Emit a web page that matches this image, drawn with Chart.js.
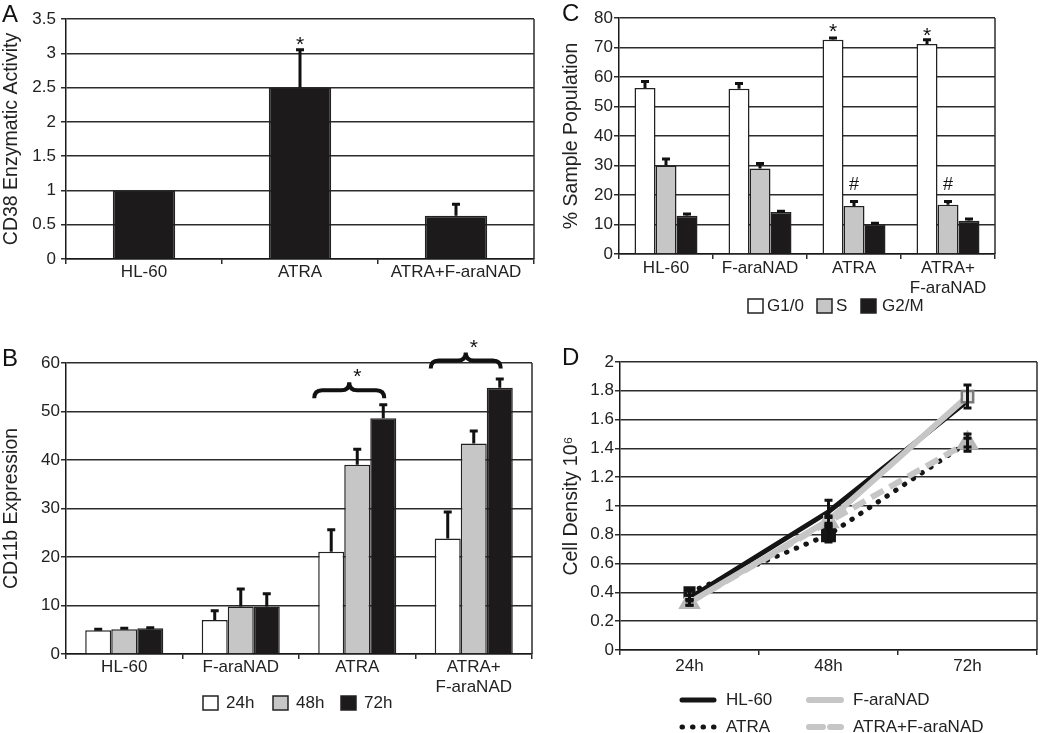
<!DOCTYPE html>
<html>
<head>
<meta charset="utf-8">
<script src="https://cdn.jsdelivr.net/npm/chart.js@4.4.1/dist/chart.umd.min.js"></script>
<style>
  body { margin: 0; background: #fff; }
  .panel { position: absolute; }
</style>
</head>
<body>
<div class="panel" style="left:0;top:0;width:545px;height:300px"><canvas id="chartA"></canvas></div>
<div class="panel" style="left:0;top:320px;width:545px;height:413px"><canvas id="chartB"></canvas></div>
<div class="panel" style="left:560px;top:0;width:490px;height:320px"><canvas id="chartC"></canvas></div>
<div class="panel" style="left:560px;top:320px;width:490px;height:413px"><canvas id="chartD"></canvas></div>
<script>
// panel A : CD38 activity
const cd38Labels = ["HL-60", "ATRA", "ATRA+F-araNAD"];
const cd38Values = [1.0, 2.5, 0.63];
const cd38Err = [0, 0.55, 0.17];
const cd38Ticks = [0, 0.5, 1, 1.5, 2, 2.5, 3, 3.5];

// panel B : CD11b expression
const groupLabels = ["HL-60", "F-araNAD", "ATRA", ["ATRA+", "F-araNAD"]];
const cd11b24h = [4.9, 7.0, 21.1, 23.8];
const cd11b48h = [5.1, 9.8, 39.0, 43.4];
const cd11b72h = [5.3, 9.8, 48.6, 54.9];
const cd11bErr24h = [0.2, 1.9, 4.5, 5.5];
const cd11bErr48h = [0.2, 3.6, 3.2, 2.6];
const cd11bErr72h = [0.1, 2.6, 2.8, 1.8];
const cd11bTicks = [0, 10, 20, 30, 40, 50, 60];

// panel C : cell cycle
const cycleG1 = [56.3, 56.0, 72.6, 71.2];
const cycleS = [30.0, 29.0, 16.3, 16.7];
const cycleG2M = [13.0, 14.2, 10.1, 11.3];
const cycleErrG1 = [2.2, 1.8, 0.6, 1.4];
const cycleErrS = [2.2, 1.7, 1.5, 1.1];
const cycleErrG2M = [0.6, 0.3, 0.3, 0.6];
const cycleTicks = [0, 10, 20, 30, 40, 50, 60, 70, 80];

// panel D : cell density
const timeLabels = ["24h", "48h", "72h"];
const densHL60 = [0.36, 0.96, 1.73];
const densFara = [0.33, 0.90, 1.76];
const densATRA = [0.40, 0.80, 1.44];
const densATRAFara = [0.33, 0.89, 1.44];
const densErrHL60 = [0.02, 0.08, 0];
const densErrFara = [0.02, 0.03, 0.08];
const densErrATRA = [0.02, 0.05, 0.03];
const densErrATRAFara = [0.02, 0.03, 0.06];
const densTicks = [0, 0.2, 0.4, 0.6, 0.8, 1, 1.2, 1.4, 1.6, 1.8, 2];

const FONT = "'Liberation Sans', Arial, Helvetica, sans-serif";
const GRID = "#2c2c2c";
const AXIS = "#1a1a1a";
const BLACK = "#1c1a1a";
const GRAY = "#c6c6c6";
const WHITE = "#ffffff";

Chart.defaults.font.family = FONT;
Chart.defaults.font.size = 17;
Chart.defaults.color = "#222";
Chart.defaults.animation = false;

function yAxis(ticks, title, width, pad) {
  return {
    min: ticks[0],
    max: ticks[ticks.length - 1],
    afterBuildTicks: s => { s.ticks = ticks.map(v => ({ value: v })); },
    afterFit: s => { s.width = width; },
    ticks: { padding: pad, callback: v => String(v) },
    grid: { color: GRID, lineWidth: 1.5, tickLength: 5 },
    border: { color: AXIS, width: 1.5 },
    title: { display: true, text: title, font: { size: 19.5 }, padding: { top: 0, bottom: 0 } }
  };
}

function xAxis(height, pad, offset) {
  return {
    offset: offset,
    afterFit: s => { s.height = height; },
    ticks: { padding: pad, maxRotation: 0, autoSkip: false },
    grid: { offset: true, drawOnChartArea: false, color: GRID, lineWidth: 1.5, tickLength: 5 },
    border: { color: AXIS, width: 1.5 }
  };
}

// error bars (upper only for bars, both ways for lines)
const errorBars = {
  id: "errorBars",
  afterDatasetsDraw(chart) {
    const ctx = chart.ctx;
    const y = chart.scales.y;
    chart.data.datasets.forEach((ds, i) => {
      if (!ds.errors) return;
      const meta = chart.getDatasetMeta(i);
      ctx.save();
      ctx.strokeStyle = "#111";
      ctx.lineWidth = 3;
      meta.data.forEach((el, j) => {
        const err = ds.errors[j];
        if (!err) return;
        const v = ds.data[j];
        const top = y.getPixelForValue(v + err);
        const bot = ds.errBoth ? y.getPixelForValue(v - err) : el.y;
        ctx.beginPath();
        ctx.moveTo(el.x, bot);
        ctx.lineTo(el.x, top);
        ctx.moveTo(el.x - 4, top);
        ctx.lineTo(el.x + 4, top);
        if (ds.errBoth) {
          ctx.moveTo(el.x - 4, bot);
          ctx.lineTo(el.x + 4, bot);
        }
        ctx.stroke();
      });
      ctx.restore();
    });
  }
};

// frame, panel letter, significance marks, braces, legend
const panelDecor = {
  id: "panelDecor",
  afterDraw(chart, args, opts) {
    const ctx = chart.ctx;
    const area = chart.chartArea;
    const y = chart.scales.y;
    ctx.save();
    ctx.strokeStyle = GRID;
    ctx.lineWidth = 1.5;
    ctx.beginPath();
    ctx.moveTo(area.right, area.top);
    ctx.lineTo(area.right, area.bottom);
    ctx.stroke();

    ctx.fillStyle = "#111";
    ctx.textAlign = "left";
    ctx.textBaseline = "alphabetic";
    ctx.font = `24px ${FONT}`;
    ctx.fillText(opts.letter[0], opts.letter[1], opts.letter[2]);

    ctx.textAlign = "center";
    ctx.textBaseline = "middle";
    (opts.marks || []).forEach(m => {
      const el = chart.getDatasetMeta(m.ds).data[m.index];
      const size = m.text === "*" ? 21 : 18;
      ctx.font = `${size}px ${FONT}`;
      const dy = m.text === "*" ? size * 0.25 : 0;
      ctx.fillText(m.text, el.x, y.getPixelForValue(m.value) + dy);
    });

    ctx.strokeStyle = "#111";
    ctx.lineWidth = 4;
    (opts.braces || []).forEach(b => {
      const first = chart.getDatasetMeta(0).data[b.index];
      const last = chart.getDatasetMeta(2).data[b.index];
      const x1 = first.x - first.width / 2 - 4;
      const x2 = last.x + 1;
      const xm = (x1 + x2) / 2;
      const yl = y.getPixelForValue(b.value);
      const h = 8;
      ctx.beginPath();
      ctx.moveTo(x1, yl + h);
      ctx.quadraticCurveTo(x1, yl, x1 + h, yl);
      ctx.lineTo(xm - h, yl);
      ctx.quadraticCurveTo(xm, yl, xm, yl - h);
      ctx.quadraticCurveTo(xm, yl, xm + h, yl);
      ctx.lineTo(x2 - h, yl);
      ctx.quadraticCurveTo(x2, yl, x2, yl + h);
      ctx.stroke();
    });

    ctx.font = `17px ${FONT}`;
    ctx.textAlign = "left";
    (opts.legend || []).forEach(it => {
      const ds = chart.data.datasets[it.ds];
      if (chart.config.type === "bar") {
        ctx.fillStyle = ds.backgroundColor;
        ctx.fillRect(it.x, it.y - 7, 15, 14);
        ctx.strokeStyle = "#222";
        ctx.lineWidth = 1.5;
        ctx.strokeRect(it.x, it.y - 7, 15, 14);
      } else {
        ctx.strokeStyle = ds.borderColor;
        ctx.lineWidth = ds.borderWidth;
        ctx.lineCap = "round";
        ctx.setLineDash(ds.borderDash || []);
        ctx.beginPath();
        ctx.moveTo(it.x + 3, it.y);
        ctx.lineTo(it.x + 35, it.y);
        ctx.stroke();
        ctx.setLineDash([]);
        ctx.lineCap = "butt";
      }
      ctx.fillStyle = "#222";
      ctx.fillText(ds.label, it.textX, it.y);
    });
    ctx.restore();
  }
};

function barSet(label, data, errors, color) {
  return {
    label, data, errors,
    backgroundColor: color,
    borderColor: "#222",
    borderWidth: 1.5,
    categoryPercentage: 0.67,
    barPercentage: 1
  };
}

// A
new Chart(document.getElementById("chartA"), {
  type: "bar",
  data: {
    labels: cd38Labels,
    datasets: [{
      label: "CD38", data: cd38Values, errors: cd38Err,
      backgroundColor: BLACK, borderColor: "#222", borderWidth: 1.5,
      categoryPercentage: 0.4, barPercentage: 1
    }]
  },
  options: {
    responsive: true,
    maintainAspectRatio: false,
    layout: { padding: { left: 0, top: 19, right: 11, bottom: 11 } },
    scales: {
      x: xAxis(30, -2, true),
      y: yAxis(cd38Ticks, "CD38 Enzymatic Activity", 66, 5)
    },
    plugins: {
      legend: { display: false },
      tooltip: { enabled: false },
      panelDecor: {
        letter: ["A", 2, 22],
        marks: [{ text: "*", ds: 0, index: 1, value: 3.2 }]
      }
    }
  },
  plugins: [errorBars, panelDecor]
});

// B
new Chart(document.getElementById("chartB"), {
  type: "bar",
  data: {
    labels: groupLabels,
    datasets: [
      barSet("24h", cd11b24h, cd11bErr24h, WHITE),
      barSet("48h", cd11b48h, cd11bErr48h, GRAY),
      barSet("72h", cd11b72h, cd11bErr72h, BLACK)
    ]
  },
  options: {
    responsive: true,
    maintainAspectRatio: false,
    layout: { padding: { left: 0, top: 43, right: 13, bottom: 29 } },
    scales: {
      x: xAxis(50, -2, true),
      y: yAxis(cd11bTicks, "CD11b Expression", 66, 1)
    },
    plugins: {
      legend: { display: false },
      tooltip: { enabled: false },
      panelDecor: {
        letter: ["B", 2, 46],
        marks: [
          { text: "*", ds: 1, index: 2, value: 58.2 },
          { text: "*", ds: 1, index: 3, value: 64.1 }
        ],
        braces: [{ index: 2, value: 54.4 }, { index: 3, value: 60.5 }],
        legend: [
          { ds: 0, x: 203, y: 383, textX: 226 },
          { ds: 1, x: 273, y: 383, textX: 296 },
          { ds: 2, x: 341, y: 383, textX: 364 }
        ]
      }
    }
  },
  plugins: [errorBars, panelDecor]
});

// C
new Chart(document.getElementById("chartC"), {
  type: "bar",
  data: {
    labels: groupLabels,
    datasets: [
      barSet("G1/0", cycleG1, cycleErrG1, WHITE),
      barSet("S", cycleS, cycleErrS, GRAY),
      barSet("G2/M", cycleG2M, cycleErrG2M, BLACK)
    ]
  },
  options: {
    responsive: true,
    maintainAspectRatio: false,
    layout: { padding: { left: 0, top: 18, right: 55, bottom: 26 } },
    scales: {
      x: xAxis(40, -1, true),
      y: yAxis(cycleTicks, "% Sample Population", 59, 1)
    },
    plugins: {
      legend: { display: false },
      tooltip: { enabled: false },
      panelDecor: {
        letter: ["C", 2, 21],
        marks: [
          { text: "*", ds: 0, index: 2, value: 76.8 },
          { text: "*", ds: 0, index: 3, value: 75.7 },
          { text: "#", ds: 1, index: 2, value: 23.4 },
          { text: "#", ds: 1, index: 3, value: 23.4 }
        ],
        legend: [
          { ds: 0, x: 188, y: 306, textX: 207 },
          { ds: 1, x: 257, y: 306, textX: 276 },
          { ds: 2, x: 301, y: 306, textX: 322 }
        ]
      }
    }
  },
  plugins: [errorBars, panelDecor]
});

// D
new Chart(document.getElementById("chartD"), {
  type: "line",
  data: {
    labels: timeLabels,
    datasets: [
      {
        label: "HL-60", data: densHL60, errors: densErrHL60, errBoth: true,
        borderColor: "#151515", borderWidth: 5, pointRadius: 0, order: 1
      },
      {
        label: "F-araNAD", data: densFara, errors: densErrFara, errBoth: true,
        borderColor: GRAY, borderWidth: 6, order: 0,
        pointStyle: "rect", pointRadius: [6, 6, 8], pointBackgroundColor: ["#d4d4d4", "#d4d4d4", "#e8e8e8"],
        pointBorderColor: ["#c0c0c0", "#c0c0c0", "#7a7a7a"], pointBorderWidth: 2.5
      },
      {
        label: "ATRA", data: densATRA, errors: densErrATRA, errBoth: true,
        borderColor: "#151515", borderWidth: 5, borderDash: [0.5, 10], borderCapStyle: "round", order: 3,
        pointStyle: "rect", pointRadius: [5, 7, 0], pointBackgroundColor: "#151515", pointBorderColor: "#151515"
      },
      {
        label: "ATRA+F-araNAD", data: densATRAFara, errors: densErrATRAFara, errBoth: true,
        borderColor: GRAY, borderWidth: 6, borderDash: [14, 7], order: 2,
        pointStyle: "triangle", pointRadius: 7, pointBackgroundColor: "#d0d0d0", pointBorderColor: "#b8b8b8"
      }
    ]
  },
  options: {
    responsive: true,
    maintainAspectRatio: false,
    layout: { padding: { left: 0, top: 42, right: 2, bottom: 53 } },
    scales: {
      x: xAxis(30, 1, true),
      y: yAxis(densTicks, "Cell Density 10⁶", 60, 1)
    },
    elements: { line: { tension: 0 } },
    plugins: {
      legend: { display: false },
      tooltip: { enabled: false },
      panelDecor: {
        letter: ["D", 2, 45],
        legend: [
          { ds: 0, x: 119, y: 380, textX: 166 },
          { ds: 1, x: 246, y: 380, textX: 293 },
          { ds: 2, x: 119, y: 407, textX: 166 },
          { ds: 3, x: 246, y: 407, textX: 293 }
        ]
      }
    }
  },
  plugins: [errorBars, panelDecor]
});
</script>
</body>
</html>
